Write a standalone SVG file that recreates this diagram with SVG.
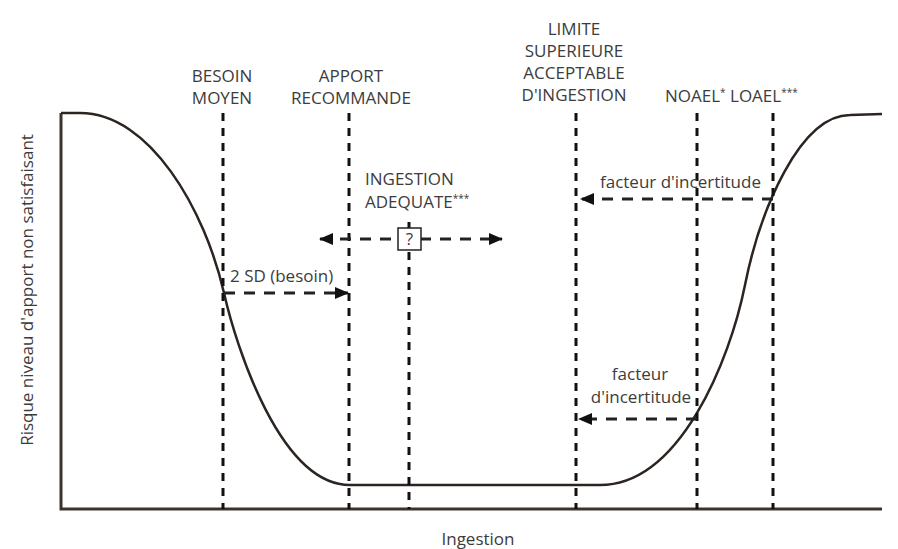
<svg xmlns="http://www.w3.org/2000/svg" width="898" height="549" viewBox="0 0 898 549">
  <defs>
    <style>
      .t { font-family: "Open Sans", "Liberation Sans", sans-serif; font-size: 17px; fill: #3c3c3c; }
      .c { text-anchor: middle; }
      .sup { font-size: 10px; }
      .v { stroke: #111; stroke-width: 3; stroke-dasharray: 8 7; fill: none; }
      .h { stroke: #222; stroke-width: 3; stroke-dasharray: 11 9; fill: none; }
      .axis { stroke: #3a3430; stroke-width: 3; fill: none; }
      .curve { stroke: #2b2420; stroke-width: 2.5; fill: none; }
    </style>
    <marker id="ah" viewBox="0 0 14 12" refX="13" refY="6" markerWidth="14" markerHeight="12" markerUnits="userSpaceOnUse" orient="auto-start-reverse">
      <path d="M0,0 L14,6 L0,12 Z" fill="#111"/>
    </marker>
  </defs>
  <rect width="898" height="549" fill="#ffffff"/>

  <g id="axes">
    <path class="axis" d="M61,113 L61,509 L882,509"/>
    <text class="t c" x="478" y="545">Ingestion</text>
    <text class="t c" transform="translate(33,290) rotate(-90)">Risque niveau d'apport non satisfaisant</text>
  </g>

  <g id="curve">
    <path class="curve" d="M61,113 L80,113 C150,113 205,210 224,293 C236,346 280,485 350,485 L600,485 C680,485 730,360 745,285 C760,210 800,115 850,115 L882,114"/>
  </g>

  <g id="connectors">
    <line class="v" x1="223" y1="113" x2="223" y2="509"/>
    <line class="v" x1="349" y1="113" x2="349" y2="509"/>
    <line class="v" x1="409" y1="222" x2="409" y2="509"/>
    <line class="v" x1="576" y1="113" x2="576" y2="509"/>
    <line class="v" x1="697" y1="113" x2="697" y2="509"/>
    <line class="v" x1="773" y1="113" x2="773" y2="509"/>

    <line class="h" x1="224" y1="293" x2="348" y2="293" marker-end="url(#ah)"/>
    <line class="h" x1="320" y1="239" x2="502" y2="239" marker-start="url(#ah)" marker-end="url(#ah)"/>
    <line class="h" x1="773" y1="199" x2="581" y2="199" marker-end="url(#ah)"/>
    <line class="h" x1="697" y1="419" x2="579" y2="419" marker-end="url(#ah)"/>
  </g>

  <g id="besoin-moyen">
    <text class="t c" x="222" y="82">BESOIN</text>
    <text class="t c" x="222" y="104">MOYEN</text>
  </g>

  <g id="apport-recommande">
    <text class="t c" x="351" y="82">APPORT</text>
    <text class="t c" x="351" y="104">RECOMMANDE</text>
  </g>

  <g id="limite-superieure">
    <text class="t c" x="574" y="35">LIMITE</text>
    <text class="t c" x="574" y="57">SUPERIEURE</text>
    <text class="t c" x="574" y="79">ACCEPTABLE</text>
    <text class="t c" x="574" y="101">D'INGESTION</text>
  </g>

  <g id="noael-loael">
    <text class="t" x="665" y="102">NOAEL<tspan class="sup" dy="-6">*</tspan><tspan dy="6"> LOAEL</tspan><tspan class="sup" dy="-6">***</tspan></text>
  </g>

  <g id="ingestion-adequate">
    <text class="t" x="365" y="185">INGESTION</text>
    <text class="t" x="365" y="208">ADEQUATE<tspan class="sup" dy="-6">***</tspan></text>
    <rect x="398" y="228" width="23" height="22" fill="#fff" stroke="#222" stroke-width="1.5"/>
    <text class="t c" x="409.5" y="245">?</text>
  </g>

  <g id="sd-label">
    <text class="t" x="230" y="282">2 SD (besoin)</text>
  </g>

  <g id="facteur-haut">
    <text class="t" x="600" y="188">facteur d'incertitude</text>
  </g>

  <g id="facteur-bas">
    <text class="t c" x="640" y="380">facteur</text>
    <text class="t c" x="641" y="403">d'incertitude</text>
  </g>
</svg>
